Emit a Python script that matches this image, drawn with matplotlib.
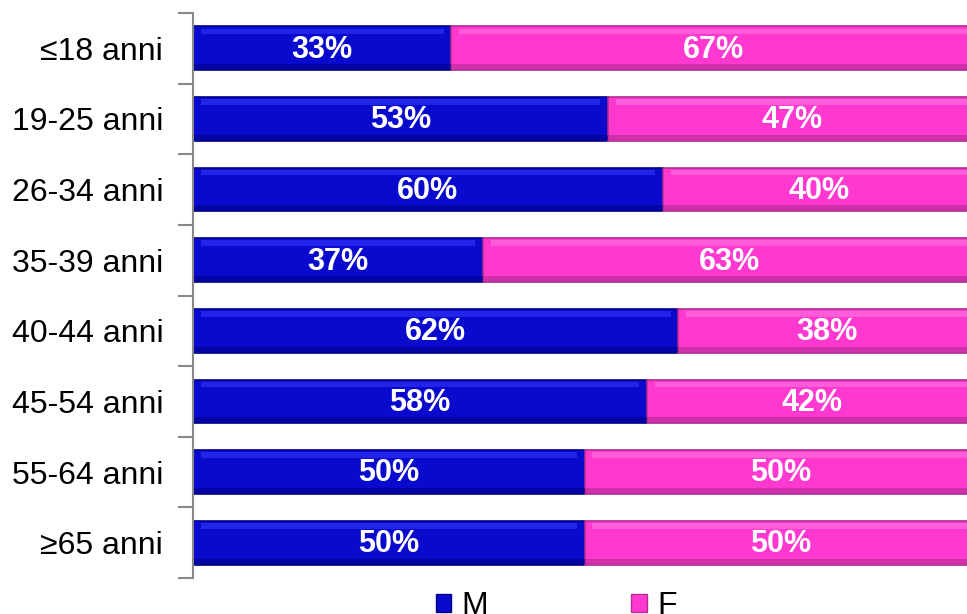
import matplotlib
matplotlib.use("Agg")
import matplotlib.pyplot as plt
from matplotlib.patches import Patch
import numpy as np

# ============================
# DATA
# ============================
categories = ["≤18 anni", "19-25 anni", "26-34 anni", "35-39 anni",
              "40-44 anni", "45-54 anni", "55-64 anni", "≥65 anni"]
male = [33, 53, 60, 37, 62, 58, 50, 50]
female = [67, 47, 40, 63, 38, 42, 50, 50]

blue, blue_dark, blue_light = "#0A0ACF", "#00008A", "#2A2AF0"
pink, pink_dark, pink_light = "#FF38CF", "#B02C90", "#FF66DD"

plt.rcParams['font.family'] = ['Liberation Sans', 'DejaVu Sans']

# ============================
# PLOT
# ============================
fig = plt.figure(figsize=(9.67, 6.14), dpi=100)
ax = fig.add_axes([193/967, 36/614, 783/967, 565/614])

y = np.arange(len(categories))
h = 0.62
m = np.array(male) / 100
f = np.array(female) / 100

ax.barh(y, m, height=h, color=blue, edgecolor=blue_dark, linewidth=1.2)
ax.barh(y, f, left=m, height=h, color=pink, edgecolor=pink_dark, linewidth=1.2)

# bevel look: soft light band on top, dark band at bottom
ax.barh(y - h/2 + 0.07, m - 0.02, left=0.01, height=0.08, color=blue_light, linewidth=0, alpha=0.8)
ax.barh(y + h/2 - 0.045, m, height=0.08, color=blue_dark, linewidth=0, alpha=0.6)
ax.barh(y - h/2 + 0.07, f - 0.02, left=m + 0.01, height=0.08, color=pink_light, linewidth=0, alpha=0.8)
ax.barh(y + h/2 - 0.045, f, left=m, height=0.08, color=pink_dark, linewidth=0, alpha=0.6)

for i in range(len(categories)):
    ax.text(m[i] / 2, y[i] + 0.02, f"{male[i]}%", ha="center", va="center",
            color="white", fontsize=22, fontweight="bold")
    ax.text(m[i] + f[i] / 2, y[i] + 0.02, f"{female[i]}%", ha="center", va="center",
            color="white", fontsize=22, fontweight="bold")

ax.set_xlim(0, 1)
ax.set_ylim(len(categories) - 0.5, -0.5)

ax.set_yticks(np.arange(-0.5, len(categories)), minor=False)
ax.set_yticklabels([])
ax.set_yticks(y, minor=True)
ax.set_yticklabels(categories, minor=True, fontsize=23)
ax.tick_params(axis="y", which="major", length=11, width=1.5, color="#888888")
ax.tick_params(axis="y", which="minor", length=0, pad=21.5)
ax.set_xticks([])

for s in ["top", "right", "bottom"]:
    ax.spines[s].set_visible(False)
ax.spines["left"].set_color("#888888")
ax.spines["left"].set_linewidth(1.5)

handles = [Patch(facecolor=blue, edgecolor=blue_dark, label="M"),
           Patch(facecolor=pink, edgecolor=pink_dark, label="F")]
fig.legend(handles=handles, loc="center", bbox_to_anchor=(556/967, 1 - 606/614),
           ncol=2, frameon=False, fontsize=23, handlelength=0.5, handleheight=0.5,
           handletextpad=0.3, columnspacing=4.5)

fig.savefig("out.png", dpi=100)
